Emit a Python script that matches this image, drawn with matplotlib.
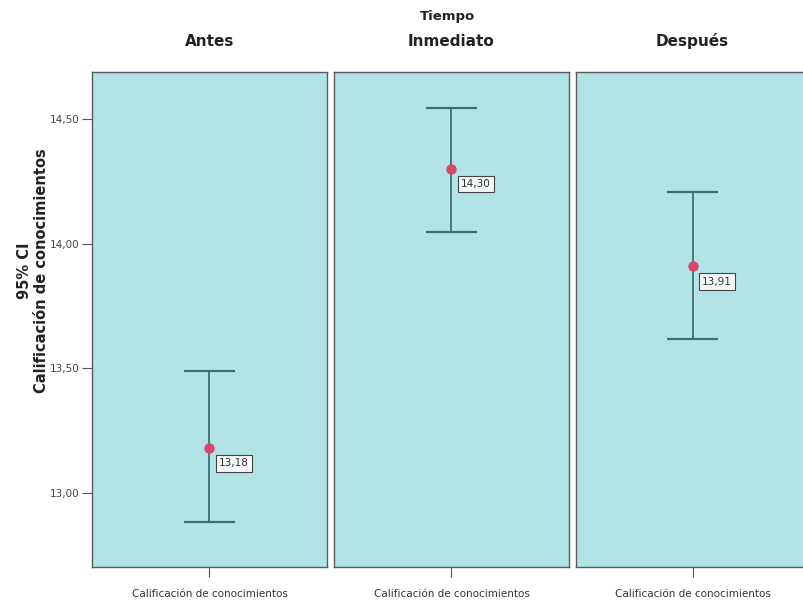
import matplotlib.pyplot as plt

# Medias e intervalos de confianza al 95% por momento
tiempos = ["Antes", "Inmediato", "Después"]
medias = [13.18, 14.30, 13.91]
li_ic = [12.884, 14.049, 13.616]
ls_ic = [13.489, 14.544, 14.206]
etiquetas_medias = ["13,18", "14,30", "13,91"]
variable = "Calificación de conocimientos"
yticks = [13.0, 13.5, 14.0, 14.5]
ytick_labels = ["13,00", "13,50", "14,00", "14,50"]

fondo = "#b2e4e6"
linea = "#3f6e70"
punto = "#d8476b"

fig = plt.figure(figsize=(8.04, 6.05), dpi=100)

izq = [0.1144, 0.4154, 0.7164]
ancho = 0.2923
axes = []
for i, t in enumerate(tiempos):
    ax = fig.add_axes([izq[i], 0.0628, ancho if i < 2 else 0.29, 0.818])
    ax.set_facecolor(fondo)
    for s in ax.spines.values():
        s.set_color("#5a5a5a")
        s.set_linewidth(1.0)

    # barra de error del intervalo
    ax.vlines(0, li_ic[i], ls_ic[i], color=linea, lw=1.3, zorder=2)
    ax.hlines([li_ic[i], ls_ic[i]], -0.11, 0.11, color=linea, lw=1.6, zorder=2)
    ax.plot(0, medias[i], "o", color=punto, ms=6.5, zorder=3)
    ax.annotate(etiquetas_medias[i], (0, medias[i]), xytext=(7, -11),
                textcoords="offset points", ha="left", va="center",
                fontsize=7.5, color="#333333",
                bbox=dict(boxstyle="square,pad=0.3", fc="#f4f8f8", ec="#444444", lw=0.8))

    ax.set_xlim(-0.5, 0.5)
    ax.set_ylim(12.703, 14.689)
    ax.set_xticks([0])
    ax.set_xticklabels([variable], fontsize=7.5, color="#333333")
    ax.tick_params(axis="x", length=7, width=0.8, color="#555555", pad=9)
    ax.set_title(t, fontsize=11, fontweight="bold", pad=19, color="#222222")
    if i == 0:
        ax.set_yticks(yticks)
        ax.set_yticklabels(ytick_labels, fontsize=7.5, color="#444444")
        ax.tick_params(axis="y", length=7, width=0.8, color="#555555", pad=2)
    else:
        ax.set_yticks([])
    axes.append(ax)

fig.text(0.556, 0.972, "Tiempo", ha="center", va="center",
         fontsize=9.5, fontweight="bold", color="#222222")

# etiqueta del eje Y en dos líneas
fig.text(0.041, 0.553, "95% CI\n" + variable, rotation=90, ha="center", va="center",
         fontsize=10.5, fontweight="bold", color="#222222", linespacing=1.1)

fig.savefig("out.png", dpi=100)
